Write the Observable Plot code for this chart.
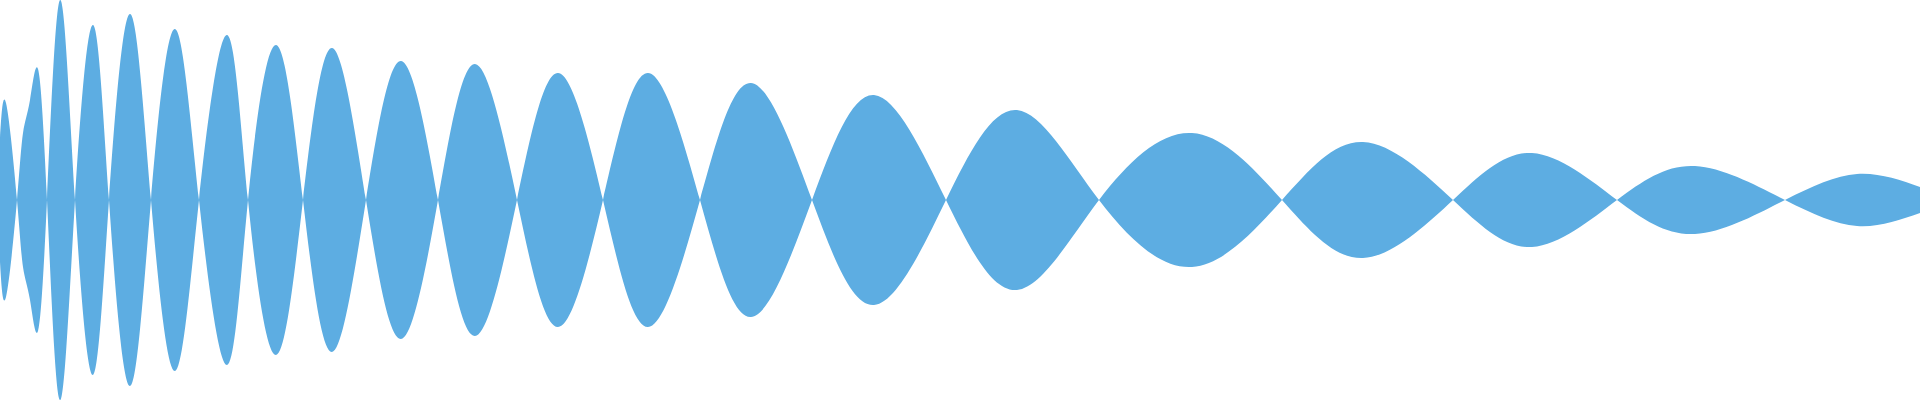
<!DOCTYPE html>
<html>
<head>
<meta charset="utf-8">
<script src="https://cdn.jsdelivr.net/npm/d3@7"></script>
<script src="https://cdn.jsdelivr.net/npm/@observablehq/plot@0.6"></script>
<style>
  html, body { margin: 0; padding: 0; background: #fff; }
  #chart svg { display: block; }
</style>
</head>
<body>
<div id="chart"></div>
<script>
// Sample positions (time) and signed amplitude of the waveform
const times = [0, 6, 17, 23, 30, 38, 47, 60, 75, 93, 109, 130, 151, 175, 199, 227, 248, 276, 303, 332, 366, 401, 438, 475, 517, 558, 603, 648, 700, 751, 812, 874, 946, 1017, 1099, 1192, 1282, 1363, 1453, 1532, 1617, 1695, 1785, 1857, 1920];
const amplitudes = [62, 97, 0, -67, -100, -131, 0, 200, 0, -175, 0, 186, 0, -171, 0, 165, 0, -155, 0, 152, 0, -139, 0, 136, 0, -127, 0, 127, 0, -117, 0, 105, 0, -90, 0, 67, 0, -58, 0, 47, 0, -34, 0, 26, 13];

const data = times.map((t, i) => ({t, a: amplitudes[i]}));

const chart = Plot.plot({
  width: 1920,
  height: 400,
  margin: 0,
  x: {domain: [0, 1920], axis: null},
  y: {domain: [-200, 200], axis: null},
  marks: [
    Plot.areaY(data, {
      x: "t",
      y1: d => -d.a,
      y2: d => d.a,
      curve: "natural",
      fill: "#5DADE2",
      fillOpacity: 1
    })
  ]
});
document.getElementById("chart").appendChild(chart);
</script>
</body>
</html>
